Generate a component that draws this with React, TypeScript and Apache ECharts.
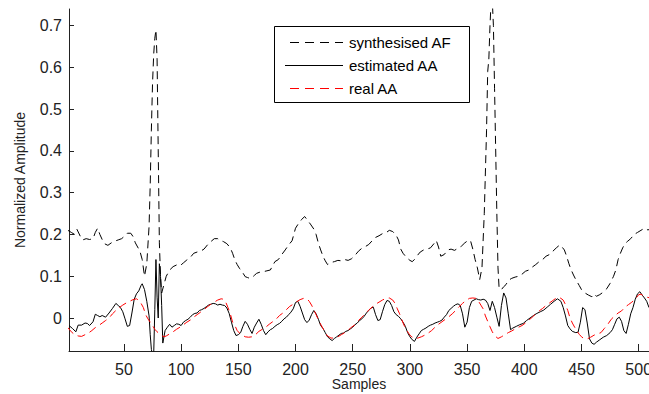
import React, { useEffect, useRef } from 'react';
import * as echarts from 'echarts';

const xTicks = [50, 100, 150, 200, 250, 300, 350, 400, 450, 500];
const yTicks = [0, 0.1, 0.2, 0.3, 0.4, 0.5, 0.6, 0.7];
const yTickLabels = ['0', '0.1', '0.2', '0.3', '0.4', '0.5', '0.6', '0.7'];
const seriesNames = ['synthesised AF', 'estimated AA', 'real AA'];
const xAxisTitle = 'Samples';
const yAxisTitle = 'Normalized Amplitude';

const synthesisedAF: [number, number][] = [
  [1, 0.21], [4, 0.205], [7, 0.2], [9, 0.212], [12, 0.195], [14, 0.187], [17, 0.19], [20, 0.188],
  [23, 0.19], [25, 0.205], [27, 0.215], [29, 0.2], [31, 0.188], [33, 0.178], [36, 0.174], [39, 0.18],
  [42, 0.184], [45, 0.187], [48, 0.19], [51, 0.197], [53, 0.203], [56, 0.203], [58, 0.195], [60, 0.18],
  [62, 0.17], [64, 0.16], [66, 0.14], [68, 0.1], [70, 0.13], [72, 0.22], [73, 0.32], [74, 0.45],
  [75, 0.56], [76, 0.63], [77, 0.67], [78, 0.69], [79, 0.62], [80, 0.4], [81, 0.18], [82, 0.1],
  [83, 0.06], [85, 0.08], [87, 0.1], [90, 0.115], [93, 0.123], [96, 0.127], [99, 0.125], [102, 0.132],
  [105, 0.139], [108, 0.145], [111, 0.155], [114, 0.158], [117, 0.16], [120, 0.165], [123, 0.175],
  [126, 0.183], [129, 0.19], [132, 0.19], [134, 0.186], [137, 0.183], [140, 0.178], [143, 0.168],
  [145, 0.155], [147, 0.139], [149, 0.128], [151, 0.119], [154, 0.108], [156, 0.099], [158, 0.097],
  [160, 0.095], [162, 0.097], [164, 0.102], [166, 0.107], [169, 0.11], [172, 0.111], [175, 0.113],
  [178, 0.115], [180, 0.125], [182, 0.135], [185, 0.14], [188, 0.152], [191, 0.163], [194, 0.175],
  [197, 0.185], [200, 0.215], [203, 0.228], [205, 0.235], [208, 0.243], [210, 0.236], [213, 0.225],
  [216, 0.213], [218, 0.2], [220, 0.179], [222, 0.163], [224, 0.148], [226, 0.137], [228, 0.128],
  [231, 0.133], [234, 0.135], [237, 0.138], [240, 0.137], [243, 0.14], [246, 0.138], [249, 0.142],
  [252, 0.15], [255, 0.16], [258, 0.167], [261, 0.171], [264, 0.176], [267, 0.185], [270, 0.193],
  [273, 0.197], [276, 0.202], [279, 0.204], [282, 0.21], [285, 0.207], [288, 0.198], [290, 0.187],
  [292, 0.165], [294, 0.155], [297, 0.145], [300, 0.138], [302, 0.135], [304, 0.14], [306, 0.148],
  [309, 0.158], [312, 0.163], [315, 0.165], [318, 0.168], [321, 0.178], [323, 0.186], [325, 0.17],
  [327, 0.148], [330, 0.152], [333, 0.163], [336, 0.165], [339, 0.162], [342, 0.167], [345, 0.172],
  [348, 0.18], [351, 0.186], [353, 0.185], [355, 0.165], [357, 0.14], [359, 0.12], [361, 0.092],
  [363, 0.12], [365, 0.25], [367, 0.45], [368, 0.59], [369, 0.62], [370, 0.7], [371, 0.76],
  [372, 0.76], [373, 0.7], [374, 0.55], [375, 0.4], [376, 0.25], [377, 0.12], [378, 0.07],
  [380, 0.068], [382, 0.075], [384, 0.08], [386, 0.09], [389, 0.095], [392, 0.098], [395, 0.1],
  [398, 0.105], [401, 0.112], [404, 0.115], [407, 0.122], [410, 0.128], [413, 0.135], [416, 0.14],
  [419, 0.148], [422, 0.152], [425, 0.16], [428, 0.168], [431, 0.175], [433, 0.17], [435, 0.163],
  [437, 0.148], [439, 0.13], [441, 0.115], [443, 0.103], [445, 0.092], [448, 0.078], [450, 0.068],
  [453, 0.06], [456, 0.055], [459, 0.051], [461, 0.058], [463, 0.052], [466, 0.056], [469, 0.062],
  [472, 0.07], [475, 0.083], [478, 0.1], [480, 0.115], [482, 0.14], [484, 0.155], [486, 0.168],
  [488, 0.178], [490, 0.183], [493, 0.19], [496, 0.2], [499, 0.205], [502, 0.21], [505, 0.215],
  [508, 0.211], [511, 0.213],
];

const estimatedAA: [number, number][] = [
  [2, -0.018], [5, -0.025], [8, -0.033], [10, -0.017], [13, -0.017], [16, -0.012], [18, -0.013],
  [20, -0.018], [23, -0.009], [25, 0.009], [27, 0.006], [29, 0.003], [31, 0.006], [34, 0.002],
  [37, 0.012], [40, 0.023], [43, 0.035], [45, 0.03], [47, 0.025], [49, 0.015], [51, -0.002],
  [53, -0.02], [55, -0.018], [57, 0.012], [59, 0.045], [61, 0.058], [63, 0.065], [65, 0.078],
  [66, 0.082], [68, 0.068], [70, 0.04], [72, 0.005], [73, -0.04], [74, -0.075], [75, -0.09],
  [76, -0.09], [77, 0.02], [78, 0.14], [79, 0.05], [80, 0.0], [81, 0.13], [82, 0.1], [83, 0.03],
  [84, -0.06], [86, -0.03], [88, -0.022], [90, -0.015], [92, -0.022], [94, -0.018], [96, -0.014],
  [98, -0.015], [100, -0.018], [102, -0.01], [104, -0.006], [106, -0.003], [108, 0.002], [110, 0.008],
  [112, 0.011], [114, 0.012], [116, 0.018], [118, 0.02], [120, 0.023], [122, 0.027], [124, 0.031],
  [126, 0.033], [128, 0.035], [130, 0.034], [132, 0.031], [134, 0.033], [136, 0.031], [138, 0.03],
  [140, 0.024], [142, 0.011], [144, -0.01], [146, -0.03], [148, -0.042], [150, -0.04], [152, -0.035],
  [154, -0.02], [156, -0.008], [158, -0.015], [160, -0.027], [162, -0.037], [164, -0.022],
  [166, -0.012], [168, -0.003], [170, -0.015], [172, -0.03], [174, -0.04], [176, -0.033],
  [178, -0.028], [180, -0.025], [182, -0.02], [184, -0.016], [186, -0.013], [188, -0.008],
  [190, -0.002], [192, 0.002], [194, 0.008], [196, 0.014], [198, 0.022], [200, 0.037], [202, 0.04],
  [204, 0.028], [206, 0.012], [208, -0.004], [210, -0.011], [212, -0.005], [214, 0.008], [216, 0.018],
  [218, 0.01], [220, -0.003], [222, -0.018], [224, -0.025], [226, -0.035], [228, -0.045], [230, -0.05],
  [232, -0.054], [234, -0.049], [236, -0.045], [238, -0.041], [240, -0.037], [242, -0.036],
  [244, -0.032], [246, -0.03], [248, -0.026], [250, -0.022], [252, -0.016], [254, -0.012],
  [256, -0.006], [258, -0.002], [260, 0.004], [262, 0.012], [264, 0.018], [266, 0.024], [268, 0.026],
  [270, 0.008], [272, -0.006], [274, -0.004], [276, 0.015], [278, 0.032], [280, 0.042], [282, 0.04],
  [284, 0.03], [286, 0.015], [288, 0.008], [290, 0.004], [292, -0.002], [294, -0.01], [296, -0.02],
  [298, -0.035], [300, -0.045], [302, -0.052], [304, -0.056], [306, -0.046], [308, -0.038],
  [310, -0.03], [312, -0.027], [314, -0.024], [316, -0.02], [318, -0.017], [320, -0.015],
  [322, -0.012], [324, -0.01], [326, -0.008], [328, -0.005], [330, 0.002], [332, 0.008], [334, 0.018],
  [336, 0.023], [338, 0.028], [340, 0.032], [342, 0.034], [344, 0.03], [346, 0.01], [348, -0.022],
  [350, -0.01], [352, 0.025], [354, 0.04], [356, 0.043], [358, 0.046], [360, 0.044], [362, 0.043],
  [364, 0.045], [366, 0.043], [368, 0.035], [370, 0.018], [372, 0.04], [374, 0.025], [376, 0.002],
  [378, -0.02], [380, 0.03], [382, 0.06], [384, 0.048], [386, 0.01], [388, -0.028], [390, -0.024],
  [393, -0.02], [396, -0.016], [399, -0.013], [402, -0.006], [405, 0.0], [408, 0.006], [411, 0.011],
  [414, 0.015], [417, 0.019], [420, 0.026], [423, 0.033], [426, 0.04], [429, 0.046], [432, 0.04],
  [434, 0.025], [436, 0.005], [438, -0.018], [440, -0.026], [442, -0.032], [445, -0.035],
  [447, -0.034], [449, -0.01], [451, 0.025], [453, 0.02], [455, -0.012], [457, -0.05], [459, -0.06],
  [461, -0.063], [463, -0.058], [466, -0.052], [469, -0.046], [472, -0.042], [475, -0.035],
  [477, -0.028], [479, -0.015], [481, -0.002], [483, 0.002], [485, -0.008], [487, -0.03],
  [489, -0.037], [491, -0.015], [493, 0.01], [495, 0.025], [497, 0.045], [499, 0.058], [501, 0.063],
  [503, 0.055], [505, 0.048], [507, 0.04], [509, 0.025],
];

const realAA: [number, number][] = [
  [1, -0.023], [4, -0.033], [7, -0.04], [10, -0.043], [13, -0.044], [16, -0.04], [19, -0.036],
  [22, -0.03], [25, -0.023], [28, -0.018], [31, -0.012], [34, -0.006], [37, 0.0], [40, 0.01],
  [43, 0.018], [46, 0.025], [49, 0.031], [52, 0.036], [55, 0.04], [58, 0.044], [61, 0.046],
  [63, 0.042], [65, 0.035], [67, 0.025], [69, 0.008], [71, -0.002], [73, -0.01], [75, -0.018],
  [77, -0.027], [79, -0.033], [81, -0.038], [83, -0.042], [85, -0.045], [87, -0.043], [90, -0.038],
  [93, -0.033], [96, -0.027], [99, -0.022], [102, -0.016], [105, -0.01], [108, -0.005], [111, 0.002],
  [114, 0.008], [117, 0.014], [120, 0.02], [123, 0.027], [126, 0.033], [129, 0.038], [132, 0.043],
  [135, 0.046], [137, 0.045], [139, 0.038], [141, 0.025], [143, 0.01], [145, -0.01], [147, -0.018],
  [149, -0.03], [151, -0.036], [153, -0.04], [156, -0.045], [159, -0.046], [162, -0.045],
  [165, -0.04], [168, -0.032], [171, -0.027], [174, -0.022], [177, -0.015], [180, -0.009],
  [183, -0.003], [186, 0.006], [189, 0.012], [192, 0.02], [195, 0.028], [198, 0.033], [201, 0.039],
  [204, 0.044], [207, 0.047], [210, 0.046], [212, 0.04], [214, 0.031], [216, 0.02], [218, 0.008],
  [220, -0.004], [222, -0.015], [224, -0.025], [226, -0.035], [228, -0.043], [231, -0.048],
  [234, -0.048], [237, -0.045], [240, -0.04], [243, -0.035], [246, -0.029], [249, -0.022],
  [252, -0.016], [255, -0.006], [258, 0.002], [261, 0.01], [264, 0.019], [267, 0.026], [270, 0.033],
  [273, 0.038], [276, 0.043], [279, 0.047], [282, 0.048], [285, 0.043], [287, 0.035], [289, 0.022],
  [291, 0.01], [293, -0.005], [295, -0.018], [297, -0.028], [299, -0.037], [301, -0.044],
  [304, -0.049], [307, -0.048], [310, -0.045], [313, -0.041], [316, -0.036], [319, -0.03],
  [322, -0.022], [325, -0.015], [328, -0.009], [331, -0.003], [334, 0.003], [337, 0.01], [340, 0.018],
  [343, 0.027], [346, 0.035], [349, 0.042], [352, 0.047], [355, 0.048], [358, 0.047], [360, 0.04],
  [362, 0.031], [364, 0.022], [366, 0.005], [368, -0.008], [370, -0.021], [372, -0.033],
  [374, -0.042], [377, -0.049], [380, -0.045], [383, -0.04], [386, -0.035], [389, -0.031],
  [392, -0.026], [395, -0.022], [398, -0.018], [401, -0.012], [404, -0.005], [407, 0.002],
  [410, 0.01], [413, 0.017], [416, 0.023], [419, 0.03], [422, 0.036], [425, 0.042], [428, 0.048],
  [430, 0.05], [432, 0.047], [434, 0.043], [436, 0.032], [438, 0.018], [440, 0.0], [442, -0.012],
  [444, -0.022], [446, -0.031], [448, -0.039], [450, -0.045], [452, -0.049], [455, -0.05],
  [458, -0.046], [461, -0.041], [464, -0.038], [467, -0.035], [470, -0.025], [473, -0.015],
  [476, -0.003], [479, 0.005], [482, 0.012], [485, 0.017], [488, 0.026], [491, 0.032], [494, 0.038],
  [497, 0.045], [500, 0.056], [502, 0.057], [504, 0.053], [507, 0.05], [510, 0.048],
];

const FONT = "'Liberation Sans', Arial, sans-serif";
const AXIS_COLOR = '#222';

export default function App() {
  const ref = useRef<HTMLDivElement>(null);
  useEffect(() => {
    document.body.style.margin = '0';
    const chart = echarts.init(ref.current!, null, { renderer: 'svg' });
    const legendRows = [
      { y: 42, color: '#000', dash: [9, 6] as any, text: seriesNames[0] },
      { y: 65, color: '#000', dash: null, text: seriesNames[1] },
      { y: 88, color: '#ff0000', dash: [9, 6] as any, text: seriesNames[2] },
    ];
    const legendChildren: any[] = [
      {
        type: 'rect',
        shape: { x: 274.5, y: 26.5, width: 195, height: 76 },
        style: { fill: '#fff', stroke: '#000', lineWidth: 1 },
      },
    ];
    legendRows.forEach((r) => {
      legendChildren.push({
        type: 'line',
        shape: { x1: r.dash ? 290 : 285, y1: r.y + 0.5, x2: 343, y2: r.y + 0.5 },
        style: { stroke: r.color, lineWidth: 1, lineDash: r.dash || undefined },
      });
      legendChildren.push({
        type: 'text',
        x: 349,
        y: r.y,
        style: {
          text: r.text,
          fill: '#000',
          font: `15px ${FONT}`,
          textVerticalAlign: 'middle',
          verticalAlign: 'middle',
        },
      });
    });

    chart.setOption({
      animation: false,
      backgroundColor: '#fff',
      grid: {
        left: 69,
        right: 0,
        top: 9,
        bottom: 43,
        containLabel: false,
        outerBoundsMode: 'none',
      },
      xAxis: {
        type: 'value',
        min: 2,
        max: 509,
        axisLine: { show: true, onZero: false, lineStyle: { color: AXIS_COLOR, width: 1 } },
        axisTick: { show: true, inside: true, length: 7, customValues: xTicks, lineStyle: { color: AXIS_COLOR } },
        axisLabel: {
          customValues: xTicks,
          fontFamily: FONT,
          fontSize: 16,
          color: AXIS_COLOR,
          margin: 10,
        },
        splitLine: { show: false },
      },
      yAxis: {
        type: 'value',
        min: -0.079,
        max: 0.74,
        name: yAxisTitle,
        nameLocation: 'middle',
        nameGap: 42,
        nameTextStyle: { fontFamily: FONT, fontSize: 14, color: AXIS_COLOR },
        axisLine: { show: true, onZero: false, lineStyle: { color: AXIS_COLOR, width: 1 } },
        axisTick: { show: true, inside: true, length: 5, customValues: yTicks, lineStyle: { color: AXIS_COLOR } },
        axisLabel: {
          customValues: yTicks,
          fontFamily: FONT,
          fontSize: 16,
          color: AXIS_COLOR,
          margin: 7,
          formatter: (v: number) => {
            const i = yTicks.findIndex((t) => Math.abs(t - v) < 1e-9);
            return i >= 0 ? yTickLabels[i] : '';
          },
        },
        splitLine: { show: false },
      },
      series: [
        {
          name: seriesNames[0],
          type: 'line',
          data: synthesisedAF,
          symbol: 'none',
          clip: true,
          lineStyle: { color: '#000', width: 1, type: [8, 5] },
          z: 2,
        },
        {
          name: seriesNames[1],
          type: 'line',
          data: estimatedAA,
          symbol: 'none',
          clip: true,
          lineStyle: { color: '#000', width: 1, type: 'solid' },
          z: 3,
        },
        {
          name: seriesNames[2],
          type: 'line',
          data: realAA,
          symbol: 'none',
          clip: true,
          lineStyle: { color: '#ff0000', width: 1, type: [8, 5] },
          z: 4,
        },
      ],
      graphic: [
        { type: 'group', z: 100, children: legendChildren },
        {
          type: 'text',
          x: 359,
          y: 384,
          style: {
            text: xAxisTitle,
            fill: AXIS_COLOR,
            font: `14px ${FONT}`,
            align: 'center',
            textAlign: 'center',
            verticalAlign: 'middle',
            textVerticalAlign: 'middle',
          },
        },
      ],
    });
    return () => chart.dispose();
  }, []);
  return <div ref={ref} style={{ width: 649, height: 394 }} />;
}
